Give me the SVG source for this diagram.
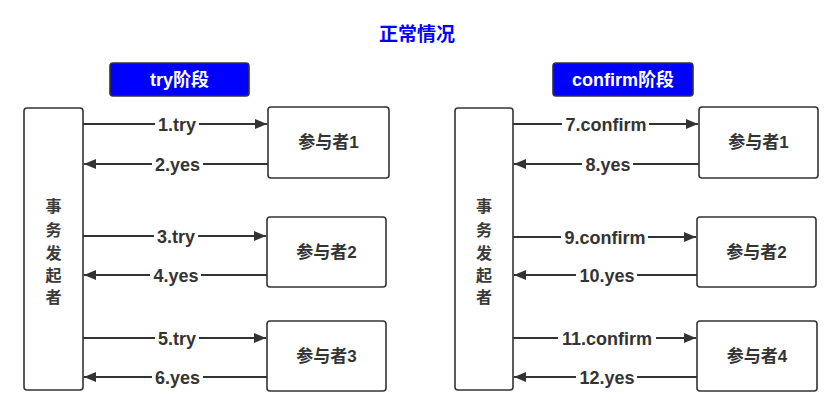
<svg xmlns="http://www.w3.org/2000/svg" width="827" height="403" viewBox="0 0 827 403">
<defs>
<style>
.box{fill:#fff;stroke:#333;stroke-width:1.6}
.phase{fill:#0000ff;stroke:#333;stroke-width:1.6}
.t{font-family:"Noto Sans CJK SC","Liberation Sans",sans-serif;font-size:16px;font-weight:bold;fill:#3a3a3a;text-anchor:middle;dominant-baseline:central}
.p{font-family:"Liberation Sans","Noto Sans CJK SC",sans-serif;font-size:17px;fill:#333;font-weight:bold;text-anchor:middle;dominant-baseline:central}
.ph{font-family:"Liberation Sans","Noto Sans CJK SC",sans-serif;font-size:18px;fill:#fff;font-weight:bold;text-anchor:middle;dominant-baseline:central}
.ln{stroke:#333;stroke-width:2;fill:none}
.lb{font-family:"Liberation Sans","Noto Sans CJK SC",sans-serif;font-size:18px;font-weight:bold;fill:#333;text-anchor:middle;dominant-baseline:central}
.bg{fill:#fff}
</style>
<marker id="ah" viewBox="0 0 12 10" refX="12" refY="5" markerWidth="12" markerHeight="10" markerUnits="userSpaceOnUse" orient="auto">
<path d="M0,0 L12,5 L0,10 Z" fill="#333"/>
</marker>
</defs>
<rect width="827" height="403" fill="#fff"/>
<text x="417" y="32" style="font-family:'Noto Sans CJK SC',sans-serif;font-size:19px;font-weight:bold;fill:#0000ff;text-anchor:middle;dominant-baseline:central">正常情况</text>

<g id="phase-try"><rect class="phase" x="110" y="63" width="139" height="33" rx="3"/><text class="ph" x="179.5" y="79.5">try阶段</text></g>
<g id="phase-confirm"><rect class="phase" x="553" y="63" width="140" height="33" rx="3"/><text class="ph" x="623" y="79.5">confirm阶段</text></g>

<g id="initiator-left"><rect class="box" x="24" y="108" width="59" height="282" rx="3"/>
<text class="t" x="53.5" y="205">事</text><text class="t" x="53.5" y="229">务</text><text class="t" x="53.5" y="252">发</text><text class="t" x="53.5" y="274">起</text><text class="t" x="53.5" y="296">者</text></g>
<g id="initiator-right"><rect class="box" x="455" y="108" width="58" height="282" rx="3"/>
<text class="t" x="484" y="205">事</text><text class="t" x="484" y="229">务</text><text class="t" x="484" y="252">发</text><text class="t" x="484" y="274">起</text><text class="t" x="484" y="296">者</text></g>

<g id="p1-left"><rect class="box" x="268" y="107" width="121" height="71" rx="3"/><text class="p" x="328.5" y="142.5">参与者1</text></g>
<g id="p2-left"><rect class="box" x="267" y="217" width="119" height="70" rx="3"/><text class="p" x="326.5" y="252">参与者2</text></g>
<g id="p3-left"><rect class="box" x="267" y="321" width="119" height="70" rx="3"/><text class="p" x="326.5" y="356">参与者3</text></g>
<g id="p1-right"><rect class="box" x="699" y="107" width="119" height="71" rx="3"/><text class="p" x="758.5" y="142.5">参与者1</text></g>
<g id="p2-right"><rect class="box" x="697" y="217" width="119" height="70" rx="3"/><text class="p" x="756.5" y="252">参与者2</text></g>
<g id="p4-right"><rect class="box" x="697" y="321" width="120" height="70" rx="3"/><text class="p" x="757" y="356">参与者4</text></g>

<g id="connectors">
<line class="ln" x1="83" y1="124" x2="267" y2="124" marker-end="url(#ah)"/>
<line class="ln" x1="268" y1="164" x2="84" y2="164" marker-end="url(#ah)"/>
<line class="ln" x1="83" y1="236" x2="266" y2="236" marker-end="url(#ah)"/>
<line class="ln" x1="267" y1="275" x2="84" y2="275" marker-end="url(#ah)"/>
<line class="ln" x1="83" y1="338" x2="266" y2="338" marker-end="url(#ah)"/>
<line class="ln" x1="267" y1="377" x2="84" y2="377" marker-end="url(#ah)"/>
<line class="ln" x1="513" y1="124" x2="698" y2="124" marker-end="url(#ah)"/>
<line class="ln" x1="699" y1="164" x2="514" y2="164" marker-end="url(#ah)"/>
<line class="ln" x1="513" y1="237" x2="696" y2="237" marker-end="url(#ah)"/>
<line class="ln" x1="697" y1="275" x2="514" y2="275" marker-end="url(#ah)"/>
<line class="ln" x1="513" y1="338" x2="696" y2="338" marker-end="url(#ah)"/>
<line class="ln" x1="697" y1="377" x2="514" y2="377" marker-end="url(#ah)"/>

<rect class="bg" x="155" y="115" width="44" height="18"/><text class="lb" x="177" y="125">1.try</text>
<rect class="bg" x="152" y="155" width="51" height="18"/><text class="lb" x="177.5" y="165">2.yes</text>
<rect class="bg" x="154" y="227" width="44" height="18"/><text class="lb" x="176" y="237">3.try</text>
<rect class="bg" x="150" y="266" width="51" height="18"/><text class="lb" x="176" y="276">4.yes</text>
<rect class="bg" x="155" y="329" width="44" height="18"/><text class="lb" x="177" y="339">5.try</text>
<rect class="bg" x="152" y="368" width="51" height="18"/><text class="lb" x="177.5" y="378">6.yes</text>
<rect class="bg" x="562" y="115" width="87" height="18"/><text class="lb" x="606" y="125">7.confirm</text>
<rect class="bg" x="582" y="155" width="51" height="18"/><text class="lb" x="608" y="165">8.yes</text>
<rect class="bg" x="561" y="228" width="87" height="18"/><text class="lb" x="605" y="238">9.confirm</text>
<rect class="bg" x="576" y="266" width="61" height="18"/><text class="lb" x="607" y="276">10.yes</text>
<rect class="bg" x="558" y="329" width="98" height="18"/><text class="lb" x="607" y="339">11.confirm</text>
<rect class="bg" x="576" y="368" width="61" height="18"/><text class="lb" x="607" y="378">12.yes</text>
</g>
</svg>
